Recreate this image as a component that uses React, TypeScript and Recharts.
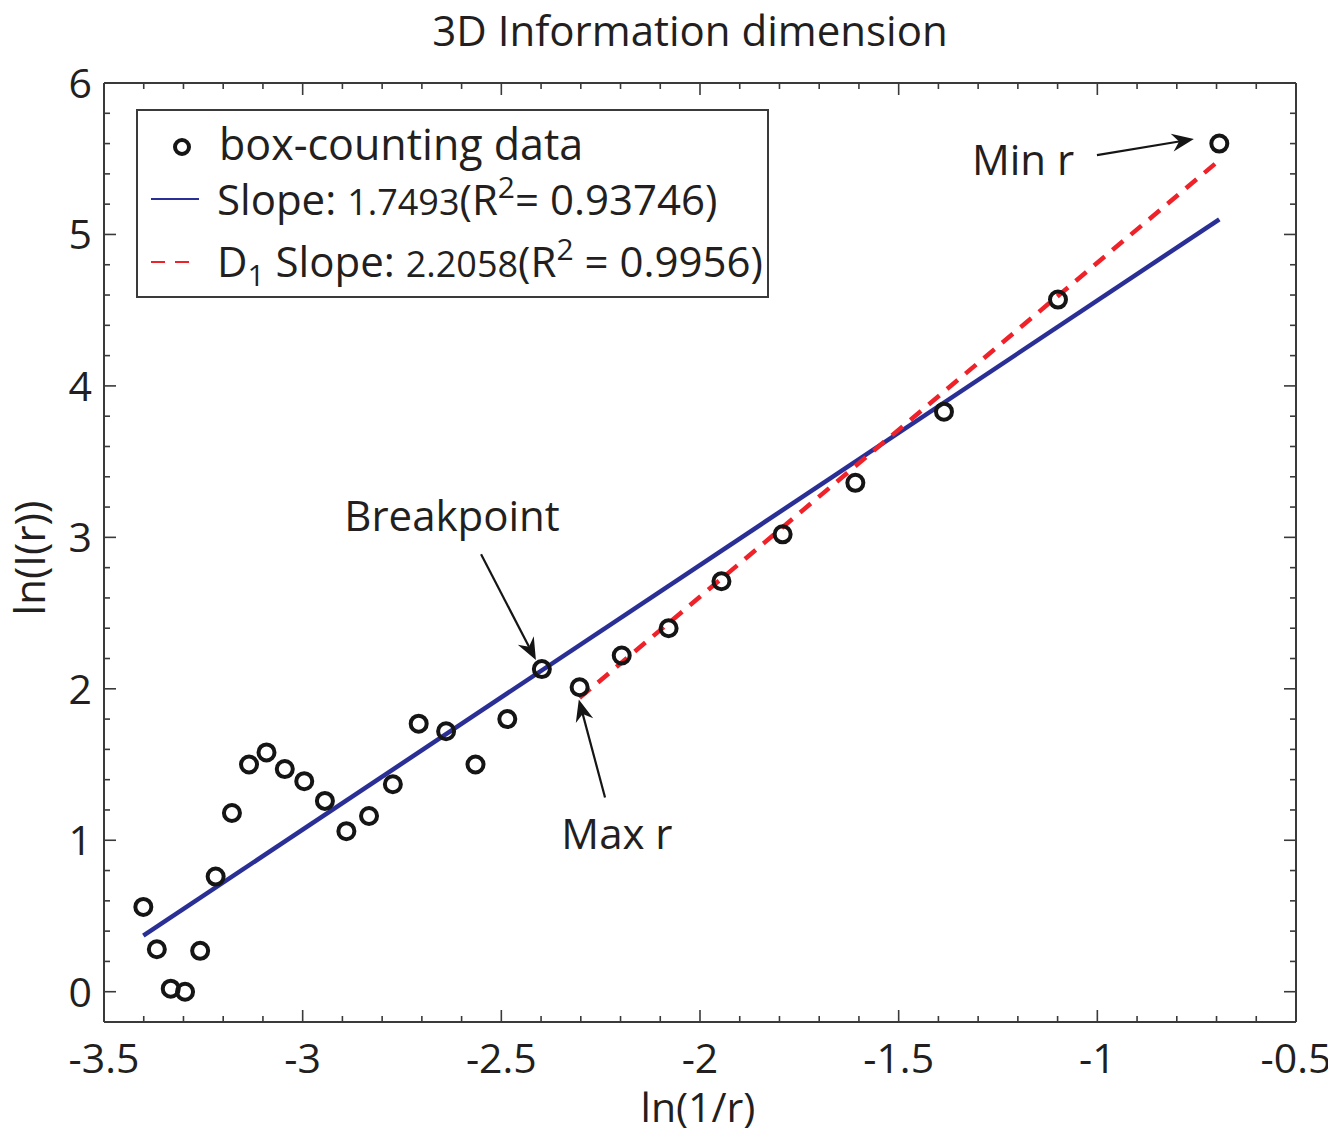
import React from 'react';
import { ComposedChart, XAxis, YAxis, Scatter, Line, ReferenceLine, ReferenceDot } from 'recharts';

// ---- data ----
const lnInvR = [-3.401, -3.367, -3.332, -3.296, -3.258, -3.219, -3.178, -3.135, -3.091, -3.045, -2.996, -2.944, -2.890, -2.833, -2.773, -2.708, -2.639, -2.565, -2.485, -2.398, -2.303, -2.197, -2.079, -1.946, -1.792, -1.609, -1.386, -1.099, -0.693];
const lnIr = [0.56, 0.28, 0.02, 0.0, 0.27, 0.76, 1.18, 1.50, 1.58, 1.47, 1.39, 1.26, 1.06, 1.16, 1.37, 1.77, 1.72, 1.50, 1.80, 2.13, 2.01, 2.22, 2.40, 2.71, 3.02, 3.36, 3.83, 4.57, 5.60];

const fullFitX = [-3.401, -0.693];
const fullFitY = [0.37, 5.10];
const d1FitX = [-2.303, -0.693];
const d1FitY = [1.94, 5.49];

const xMajorTicks = [-3.5, -3, -2.5, -2, -1.5, -1, -0.5];
const xMinorTicks = [-3.4, -3.3, -3.2, -3.1, -2.9, -2.8, -2.7, -2.6, -2.4, -2.3, -2.2, -2.1, -1.9, -1.8, -1.7, -1.6, -1.4, -1.3, -1.2, -1.1, -0.9, -0.8, -0.7, -0.6];
const yMajorTicks = [0, 1, 2, 3, 4, 5, 6];
const yMinorTicks = [0.2, 0.4, 0.6, 0.8, 1.2, 1.4, 1.6, 1.8, 2.2, 2.4, 2.6, 2.8, 3.2, 3.4, 3.6, 3.8, 4.2, 4.4, 4.6, 4.8, 5.2, 5.4, 5.6, 5.8];

const titleText = '3D Information dimension';
const xLabelText = 'ln(1/r)';
const yLabelText = 'ln(I(r))';

// annotation texts (centre positions in data units)
const annotations = [
  { x: -1.187, y: 5.49, text: 'Min r' },
  { x: -2.624, y: 3.14, text: 'Breakpoint' },
  { x: -2.209, y: 1.04, text: 'Max r' },
];
// arrows: from -> to (data units)
const arrows = [
  { x1: -1.001, y1: 5.524, x2: -0.757, y2: 5.63 },
  { x1: -2.551, y1: 2.888, x2: -2.413, y2: 2.19 },
  { x1: -2.239, y1: 1.282, x2: -2.305, y2: 1.93 },
];

// ---- derived tables ----
const points = lnInvR.map((x, i) => ({ x, y: lnIr[i] }));
const fullFit = fullFitX.map((x, i) => ({ x, y: fullFitY[i] }));
const d1Fit = d1FitX.map((x, i) => ({ x, y: d1FitY[i] }));

const FONT = '"Open Sans", "Noto Sans", sans-serif';
const TXT = '#231f20';
const AX = '#3a3a3a';
const BLUE = '#2a2f96';
const RED = '#ef2129';

const near = (v: number, arr: number[]) => arr.some((a) => Math.abs(a - v) < 1e-6);
const MAJ = 12;
const MIN = 6;
const TICK_FS = 41;

const BottomTick = (p: any) => {
  const { x, y, payload } = p;
  const major = near(payload.value, xMajorTicks);
  return (
    <g>
      <line x1={x} y1={y} x2={x} y2={y - (major ? MAJ : MIN)} stroke={AX} strokeWidth={1.6} />
      {major && (
        <text x={x} y={y + 51} textAnchor="middle" fontSize={TICK_FS} fontFamily={FONT} fill={TXT}>
          {String(payload.value)}
        </text>
      )}
    </g>
  );
};
const TopTick = (p: any) => {
  const { x, y, payload } = p;
  const major = near(payload.value, xMajorTicks);
  return <line x1={x} y1={y} x2={x} y2={y + (major ? MAJ : MIN)} stroke={AX} strokeWidth={1.6} />;
};
const LeftTick = (p: any) => {
  const { x, y, payload } = p;
  const major = near(payload.value, yMajorTicks);
  return (
    <g>
      <line x1={x} y1={y} x2={x + (major ? MAJ : MIN)} y2={y} stroke={AX} strokeWidth={1.6} />
      {major && (
        <text x={x - 12} y={y + 15} textAnchor="end" fontSize={TICK_FS} fontFamily={FONT} fill={TXT}>
          {String(payload.value)}
        </text>
      )}
    </g>
  );
};
const RightTick = (p: any) => {
  const { x, y, payload } = p;
  const major = near(payload.value, yMajorTicks);
  return <line x1={x} y1={y} x2={x - (major ? MAJ : MIN)} y2={y} stroke={AX} strokeWidth={1.6} />;
};

const Circle = (p: any) => (
  <circle cx={p.cx} cy={p.cy} r={8} fill="none" stroke="#151515" strokeWidth={4} />
);

const Arrow = (p: any) => {
  const { x1, y1, x2, y2 } = p;
  const dx = x2 - x1;
  const dy = y2 - y1;
  const L = Math.hypot(dx, dy) || 1;
  const ux = dx / L;
  const uy = dy / L;
  const hl = 22;
  const hw = 9;
  const notch = 7;
  const bx = x2 - ux * hl;
  const by = y2 - uy * hl;
  const px = -uy;
  const py = ux;
  const nx = x2 - ux * (hl - notch);
  const ny = y2 - uy * (hl - notch);
  const pts = `${x2},${y2} ${bx + px * hw},${by + py * hw} ${nx},${ny} ${bx - px * hw},${by - py * hw}`;
  return (
    <g>
      <line x1={x1} y1={y1} x2={nx} y2={ny} stroke="#151515" strokeWidth={2.2} />
      <polygon points={pts} fill="#151515" />
    </g>
  );
};

const makeTextShape = (label: string) => (p: any) => (
  <text x={p.cx} y={p.cy + 15} textAnchor="middle" fontSize={42} fontFamily={FONT} fill={TXT}>
    {label}
  </text>
);

export default function App() {
  return (
    <div style={{ position: 'relative', width: 1328, height: 1120 }}>
      <ComposedChart width={1328} height={1112} margin={{ top: 73, right: 38, bottom: 38, left: 36 }}>
        <XAxis
          xAxisId="b"
          type="number"
          dataKey="x"
          orientation="bottom"
          domain={[-3.5, -0.5]}
          allowDataOverflow
          ticks={[...xMajorTicks, ...xMinorTicks]}
          interval={0}
          tickSize={0}
          tickMargin={0}
          tickLine={false}
          axisLine={{ stroke: AX, strokeWidth: 2 }}
          tick={BottomTick}
          height={60}
        />
        <XAxis
          xAxisId="t"
          type="number"
          dataKey="x"
          orientation="top"
          domain={[-3.5, -0.5]}
          allowDataOverflow
          ticks={[...xMajorTicks, ...xMinorTicks]}
          interval={0}
          tickSize={0}
          tickMargin={0}
          tickLine={false}
          axisLine={{ stroke: AX, strokeWidth: 2 }}
          tick={TopTick}
          height={2}
        />
        <YAxis
          yAxisId="l"
          type="number"
          dataKey="y"
          orientation="left"
          domain={[-0.2, 6]}
          allowDataOverflow
          ticks={[...yMajorTicks, ...yMinorTicks]}
          interval={0}
          tickSize={0}
          tickMargin={0}
          tickLine={false}
          axisLine={{ stroke: AX, strokeWidth: 2 }}
          tick={LeftTick}
          width={60}
        />
        <YAxis
          yAxisId="r"
          type="number"
          dataKey="y"
          orientation="right"
          domain={[-0.2, 6]}
          allowDataOverflow
          ticks={[...yMajorTicks, ...yMinorTicks]}
          interval={0}
          tickSize={0}
          tickMargin={0}
          tickLine={false}
          axisLine={{ stroke: AX, strokeWidth: 2 }}
          tick={RightTick}
          width={2}
        />
        <Scatter
          data={points}
          dataKey="y"
          xAxisId="b"
          yAxisId="l"
          shape={Circle}
          isAnimationActive={false}
        />
        <Line
          data={fullFit}
          dataKey="y"
          xAxisId="b"
          yAxisId="l"
          type="linear"
          stroke={BLUE}
          strokeWidth={4.5}
          dot={false}
          activeDot={false}
          isAnimationActive={false}
        />
        <Line
          data={d1Fit}
          dataKey="y"
          xAxisId="b"
          yAxisId="l"
          type="linear"
          stroke={RED}
          strokeWidth={4.5}
          strokeDasharray="14 10"
          dot={false}
          activeDot={false}
          isAnimationActive={false}
        />
        {arrows.map((a, i) => (
          <ReferenceLine
            key={'ar' + i}
            xAxisId="b"
            yAxisId="l"
            segment={[
              { x: a.x1, y: a.y1 },
              { x: a.x2, y: a.y2 },
            ]}
            shape={Arrow}
          />
        ))}
        {annotations.map((a, i) => (
          <ReferenceDot
            key={'an' + i}
            xAxisId="b"
            yAxisId="l"
            x={a.x}
            y={a.y}
            r={1}
            shape={makeTextShape(a.text)}
          />
        ))}
      </ComposedChart>
      <svg
        width={1328}
        height={1120}
        style={{ position: 'absolute', left: 0, top: 0, pointerEvents: 'none', overflow: 'visible' }}
      >
        <text x={682} y={38} textAnchor="middle" fontSize={42} fontFamily={FONT} fill={TXT}>
          {titleText}
        </text>
        <text x={690} y={1114} textAnchor="middle" fontSize={41} fontFamily={FONT} fill={TXT}>
          {xLabelText}
        </text>
        <text
          transform="translate(37,550) rotate(-90)"
          textAnchor="middle"
          fontSize={42}
          fontFamily={FONT}
          fill={TXT}
        >
          {yLabelText}
        </text>
        <g transform="translate(129,102)" fontFamily={FONT} fill={TXT}>
          <rect x={0} y={0} width={631} height={187} fill="#fff" stroke={AX} strokeWidth={2} />
          <circle cx={45} cy={37} r={7} fill="none" stroke="#151515" strokeWidth={4} />
          <text x={82} y={50} fontSize={43}>box-counting data</text>
          <line x1={14} y1={89} x2={62} y2={89} stroke={BLUE} strokeWidth={2} />
          <text x={80} y={105} fontSize={42}>
            {'Slope: '}
            <tspan fontSize={36}>1.7493</tspan>
            {'(R'}
            <tspan fontSize={30} dy={-17}>2</tspan>
            <tspan dy={17}>{'= 0.93746)'}</tspan>
          </text>
          <line x1={14} y1={152} x2={62} y2={152} stroke={RED} strokeWidth={2} strokeDasharray="14 10" />
          <text x={80} y={167} fontSize={42}>
            {'D'}
            <tspan fontSize={30} dy={9}>1</tspan>
            <tspan dy={-9}>{' Slope: '}</tspan>
            <tspan fontSize={36}>2.2058</tspan>
            {'(R'}
            <tspan fontSize={30} dy={-17}>2</tspan>
            <tspan dy={17}>{' = 0.9956)'}</tspan>
          </text>
        </g>
      </svg>
    </div>
  );
}
